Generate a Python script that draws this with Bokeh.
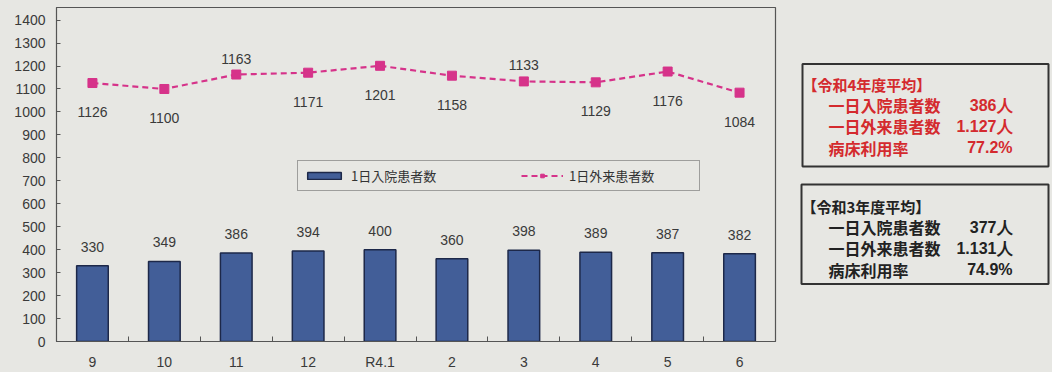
import re
from bokeh.plotting import figure
from bokeh.layouts import row
from bokeh.models import Range1d, FixedTicker, Legend, LegendItem, ColumnDataSource
from bokeh.core.properties import value
from bokeh.embed import file_html
from bokeh.resources import INLINE

# ---- data ----
months = ["9", "10", "11", "12", "R4.1", "2", "3", "4", "5", "6"]
inpatients = [330, 349, 386, 394, 400, 360, 398, 389, 387, 382]
outpatients = [1126, 1100, 1163, 1171, 1201, 1158, 1133, 1129, 1176, 1084]
series_names = ["1日入院患者数", "1日外来患者数"]

r4_title = "【令和4年度平均】"
r3_title = "【令和3年度平均】"
stat_labels = ["一日入院患者数", "一日外来患者数", "病床利用率"]
r4_values = ["386人", "1.127人", "77.2%"]
r3_values = ["377人", "1.131人", "74.9%"]

# label placement for the line labels (style)
line_label_side = ["below", "below", "above", "below", "below", "below", "above", "below", "below", "below"]

BG = "#e7e7e3"
BAR = "#425e98"
BAR_EDGE = "#1d2849"
PINK = "#d6338a"
RED = "#d42a2e"
FONT = "Liberation Sans"
JP = "Noto Sans CJK JP"

n = len(months)
xc = [i + 0.5 for i in range(n)]

p = figure(width=780, height=372, x_range=Range1d(0, n), y_range=Range1d(0, 1455),
           output_backend="svg", toolbar_location=None,
           min_border_left=56, min_border_right=5, min_border_top=7, min_border_bottom=30)
p.background_fill_color = BG
p.border_fill_color = BG
p.outline_line_color = "#555555"
p.outline_line_width = 1.2
p.grid.visible = False

# axes
p.xaxis.ticker = FixedTicker(ticks=xc, minor_ticks=list(range(1, n)))
p.xaxis.major_label_overrides = {x: m for x, m in zip(xc, months)}
p.xaxis.major_tick_line_color = None
p.xaxis.minor_tick_in = 5
p.xaxis.minor_tick_out = 0
p.xaxis.minor_tick_line_color = "#555555"
p.xaxis.axis_line_color = "#555555"
p.xaxis.major_label_text_font = FONT
p.xaxis.major_label_text_font_size = "14px"
p.xaxis.major_label_text_color = "#3a3a3a"
p.xaxis.major_label_standoff = 6

p.yaxis.ticker = FixedTicker(ticks=list(range(0, 1401, 100)))
p.yaxis.major_tick_in = 4
p.yaxis.major_tick_out = 0
p.yaxis.minor_tick_line_color = None
p.yaxis.major_tick_line_color = "#555555"
p.yaxis.axis_line_color = "#555555"
p.yaxis.major_label_text_font = FONT
p.yaxis.major_label_text_font_size = "14px"
p.yaxis.major_label_text_color = "#3a3a3a"
p.yaxis.major_label_standoff = 11

src = ColumnDataSource(dict(x=xc, inp=inpatients, out=outpatients,
                            inp_t=[str(v) for v in inpatients],
                            out_t=[str(v) for v in outpatients]))

bars = p.vbar(x="x", top="inp", width=0.44, source=src, fill_color=BAR,
              line_color=BAR_EDGE, line_width=1.5)
ln = p.line(x="x", y="out", source=src, line_color=PINK, line_width=2.2, line_dash="6 4")
mk = p.scatter(x="x", y="out", source=src, marker="square", size=9,
               fill_color=PINK, line_color=PINK)

p.text(x="x", y="inp", text="inp_t", source=src, y_offset=-19, text_align="center",
       text_baseline="middle", text_font=value(FONT), text_font_size="14px", text_color="#3a3a3a")

below = [i for i, s in enumerate(line_label_side) if s == "below"]
above = [i for i, s in enumerate(line_label_side) if s == "above"]
p.text(x=[xc[i] for i in below], y=[outpatients[i] for i in below],
       text=[str(outpatients[i]) for i in below], y_offset=29, text_align="center",
       text_baseline="middle", text_font=value(FONT), text_font_size="14px", text_color="#3a3a3a")
p.text(x=[xc[i] for i in above], y=[outpatients[i] for i in above],
       text=[str(outpatients[i]) for i in above], y_offset=-16, text_align="center",
       text_baseline="middle", text_font=value(FONT), text_font_size="14px", text_color="#3a3a3a")

legend = Legend(items=[LegendItem(label=series_names[0], renderers=[bars]),
                       LegendItem(label=series_names[1], renderers=[ln, mk])],
                orientation="horizontal", location=(241, 150))
legend.border_line_color = "#555555"
legend.border_line_width = 1.2
legend.background_fill_color = BG
legend.background_fill_alpha = 1
legend.padding = 5
legend.margin = 0
legend.glyph_width = 42
legend.glyph_height = 9
legend.label_standoff = 6
legend.label_width = 125
legend.spacing = 45
legend.label_text_font = JP
legend.label_text_font_size = "13px"
legend.label_text_color = "#333333"
p.add_layout(legend, "center")

# ---- right panel ----
q = figure(width=272, height=372, x_range=Range1d(0, 272), y_range=Range1d(372, 0),
           output_backend="svg", toolbar_location=None,
           min_border=0, min_border_left=0, min_border_right=0, min_border_top=0, min_border_bottom=0)
q.axis.visible = False
q.grid.visible = False
q.outline_line_color = None
q.background_fill_color = BG
q.border_fill_color = BG

q.quad(left=[22, 21], right=[268, 268], top=[63, 197], bottom=[177, 308],
       fill_color=None, line_color="#333333", line_width=2)

q.text(x=[22], y=[86], text=[r4_title], text_font=value(JP), text_font_style="bold",
       text_font_size="15px", text_color=RED, text_baseline="middle")
q.text(x=[48] * 3, y=[109, 132, 156], text=stat_labels, text_font=value(JP), text_font_style="bold",
       text_font_size="16px", text_color=RED, text_baseline="middle")
q.text(x=[232] * 3, y=[109, 132, 156], text=r4_values, text_font=value(FONT), text_font_style="bold",
       text_font_size="16px", text_color=RED, text_baseline="middle", text_align="right")

q.text(x=[21], y=[222], text=[r3_title], text_font=value(JP), text_font_style="bold",
       text_font_size="15px", text_color="#222222", text_baseline="middle")
q.text(x=[48] * 3, y=[245, 268, 292], text=stat_labels, text_font=value(JP), text_font_style="bold",
       text_font_size="16px", text_color="#222222", text_baseline="middle")
q.text(x=[232] * 3, y=[245, 268, 292], text=r3_values, text_font=value(FONT), text_font_style="bold",
       text_font_size="16px", text_color="#222222", text_baseline="middle", text_align="right")

layout = row(p, q, spacing=0, styles={"background-color": BG})
html = file_html(layout, INLINE)
html = re.sub(r"<body[^>]*>", '<body style="margin:0;background:%s">' % BG, html, count=1)
open("out.html", "w").write(html)
